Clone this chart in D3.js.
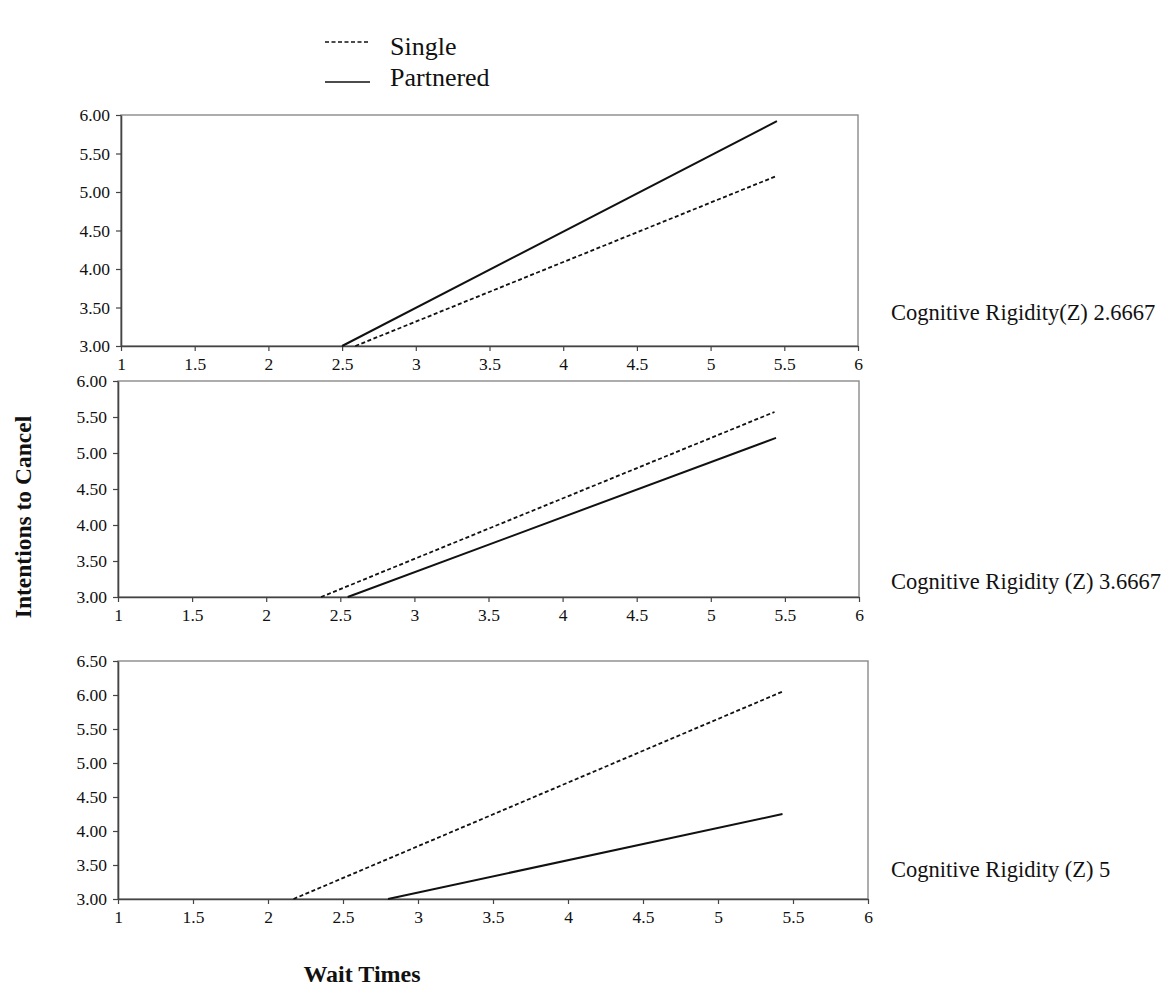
<!DOCTYPE html>
<html>
<head>
<meta charset="utf-8">
<script src="https://cdn.jsdelivr.net/npm/d3@7"></script>
<style>
  body { margin: 0; background: #fff; }
  svg text { font-family: 'Liberation Serif', 'Times New Roman', serif; fill: #111; }
</style>
</head>
<body>
<svg id="chart" width="1172" height="986"></svg>
<script>
// data
const seriesNames = ['Single', 'Partnered'];
const xTicks = [1, 1.5, 2, 2.5, 3, 3.5, 4, 4.5, 5, 5.5, 6];
const xTickLabels = ['1', '1.5', '2', '2.5', '3', '3.5', '4', '4.5', '5', '5.5', '6'];
const yTicksPanels = [
  [3, 3.5, 4, 4.5, 5, 5.5, 6],
  [3, 3.5, 4, 4.5, 5, 5.5, 6],
  [3, 3.5, 4, 4.5, 5, 5.5, 6, 6.5]
];
const panelLabels = [
  'Cognitive Rigidity(Z) 2.6667',
  'Cognitive Rigidity (Z) 3.6667',
  'Cognitive Rigidity (Z) 5'
];
// each line: [start, end] as [wait time, intention]
const singleLines = [
  [[2.59, 3.00], [5.45, 5.21]],
  [[2.37, 3.00], [5.43, 5.57]],
  [[2.17, 3.00], [5.43, 6.05]]
];
const partneredLines = [
  [[2.50, 3.00], [5.45, 5.92]],
  [[2.55, 3.00], [5.44, 5.21]],
  [[2.80, 3.00], [5.43, 4.25]]
];

const svg = d3.select('svg#chart');

// panel boxes
const panels = [
  {left: 121, right: 858, top: 115, bottom: 346, labelY: 320},
  {left: 118, right: 859, top: 381, bottom: 597, labelY: 589},
  {left: 118, right: 868, top: 661, bottom: 899, labelY: 877}
];

const line = (x, y) => d3.line().x(d => x(d[0])).y(d => y(d[1]));

panels.forEach((p, i) => {
  const yTicks = yTicksPanels[i];
  const x = d3.scaleLinear().domain([1, 6]).range([p.left, p.right]);
  const y = d3.scaleLinear().domain(d3.extent(yTicks)).range([p.bottom, p.top]);

  const g = svg.append('g');

  // frame top/right (lighter)
  g.append('rect')
    .attr('x', p.left).attr('y', p.top)
    .attr('width', p.right - p.left).attr('height', p.bottom - p.top)
    .attr('fill', 'none')
    .attr('stroke', '#8a8a8a')
    .attr('stroke-width', 1.4);

  const xAxis = g.append('g')
    .attr('transform', `translate(0,${p.bottom})`)
    .call(d3.axisBottom(x).tickValues(xTicks)
      .tickFormat((d, j) => xTickLabels[j]).tickSize(5).tickSizeOuter(0));
  xAxis.select('.domain').attr('stroke', '#444').attr('stroke-width', 1.6);
  xAxis.selectAll('.tick line').attr('stroke', '#444').attr('stroke-width', 1.2);
  xAxis.selectAll('.tick text')
    .attr('font-size', 17.5).attr('font-family', 'Liberation Serif').attr('fill', '#111')
    .attr('dy', '0.9em');

  const yAxis = g.append('g')
    .attr('transform', `translate(${p.left},0)`)
    .call(d3.axisLeft(y).tickValues(yTicks).tickFormat(d3.format('.2f'))
      .tickSize(5).tickSizeOuter(0));
  yAxis.select('.domain').attr('stroke', '#444').attr('stroke-width', 1.6);
  yAxis.selectAll('.tick line').attr('stroke', '#444').attr('stroke-width', 1.2);
  yAxis.selectAll('.tick text')
    .attr('font-size', 17.5).attr('font-family', 'Liberation Serif').attr('fill', '#111')
    .attr('x', -11);

  g.append('path')
    .datum(singleLines[i])
    .attr('fill', 'none')
    .attr('stroke', '#111')
    .attr('stroke-width', 1.8)
    .attr('stroke-dasharray', '4,2.5')
    .attr('d', line(x, y));

  g.append('path')
    .datum(partneredLines[i])
    .attr('fill', 'none')
    .attr('stroke', '#111')
    .attr('stroke-width', 2)
    .attr('d', line(x, y));

  g.append('text')
    .attr('x', 891)
    .attr('y', p.labelY)
    .attr('font-size', 22.5)
    .text(panelLabels[i]);
});

// legend
const legend = svg.append('g');
[{dash: '4,2.5', y: 42, ty: 55}, {dash: null, y: 82, ty: 86}].forEach((s, i) => {
  legend.append('line')
    .attr('x1', 325).attr('x2', 370)
    .attr('y1', s.y).attr('y2', s.y)
    .attr('stroke', '#111')
    .attr('stroke-width', 1.6)
    .attr('stroke-dasharray', s.dash);
  legend.append('text')
    .attr('x', 390).attr('y', s.ty)
    .attr('font-size', 26)
    .text(seriesNames[i]);
});

// axis titles
svg.append('text')
  .attr('transform', 'translate(31,517) rotate(-90)')
  .attr('text-anchor', 'middle')
  .attr('font-size', 23.5)
  .attr('font-weight', 'bold')
  .text('Intentions to Cancel');

svg.append('text')
  .attr('x', 362).attr('y', 982)
  .attr('text-anchor', 'middle')
  .attr('font-size', 24)
  .attr('font-weight', 'bold')
  .text('Wait Times');
</script>
</body>
</html>
